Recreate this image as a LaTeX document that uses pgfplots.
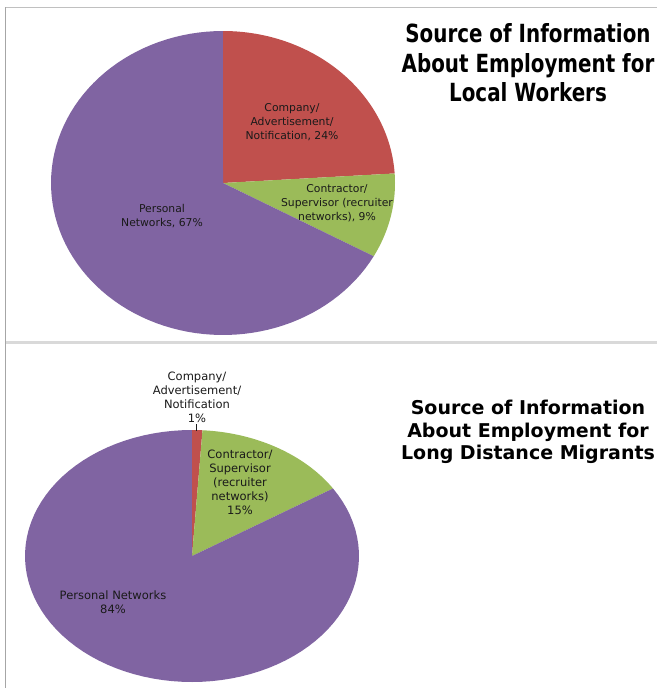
\documentclass[border=0pt]{standalone}
\usepackage{pgfplots}
\pgfplotsset{compat=1.18}
\usepackage{fontspec}
\setmainfont{DejaVu Sans}
\definecolor{cRed}{HTML}{C0504D}
\definecolor{cGreen}{HTML}{9BBB59}
\definecolor{cPurple}{HTML}{8064A2}
\definecolor{cTxt}{HTML}{1A1A1A}
\definecolor{frameA}{HTML}{C0C0C0}
\definecolor{frameB}{HTML}{A6A6A6}
\definecolor{frameC}{HTML}{D9D9D9}
% shares (percent) -- local workers
\def\LocCompany{24}
\def\LocContractor{9}
\def\LocPersonal{67}
% shares (percent) -- long distance migrants
\def\MigCompany{1}
\def\MigContractor{15}
\def\MigPersonal{84}
\newcommand{\pieslice}[7]{%
  \addplot[fill=#1, draw=none, domain=#6:#7, samples=90, variable=\t]
    ({#2+#4*sin(\t)}, {#3-#5*cos(\t)}) -- (axis cs:#2,#3) -- cycle;
}
\begin{document}
\begin{tikzpicture}
\clip (0,0) rectangle (657pt,688pt);
\fill[white] (0,0) rectangle (657pt,688pt);
\begin{axis}[
  scale only axis, width=657pt, height=688pt,
  xmin=0, xmax=657, ymin=0, ymax=688, y dir=reverse,
  hide axis, clip=false]
% frames
\draw[frameA, line width=1pt] (axis cs:5,7) -- (axis cs:657,7);
\draw[frameC, line width=3pt] (axis cs:5,342) -- (axis cs:657,342);
\draw[frameB, line width=1.6pt] (axis cs:5.5,7) -- (axis cs:5.5,688);
% top pie (local workers)
\pgfmathsetmacro{\aA}{3.6*\LocCompany}
\pgfmathsetmacro{\aB}{3.6*(\LocCompany+\LocContractor)}
\pieslice{cRed}{223}{183}{172}{152}{0}{\aA}
\pieslice{cGreen}{223}{183}{172}{152}{\aA}{\aB}
\pieslice{cPurple}{223}{183}{172}{152}{\aB}{360}
% bottom pie (migrants)
\pgfmathsetmacro{\bA}{3.6*\MigCompany}
\pgfmathsetmacro{\bB}{3.6*(\MigCompany+\MigContractor)}
\pieslice{cRed}{192}{556}{167}{126}{0}{\bA}
\pieslice{cGreen}{192}{556}{167}{126}{\bA}{\bB}
\pieslice{cPurple}{192}{556}{167}{126}{\bB}{360}
\draw[cTxt, line width=0.6pt] (axis cs:196,424) -- (axis cs:196,431);
% labels
\begin{scope}[every node/.style={align=center, text=cTxt, font=\fontsize{10.8}{14}\selectfont, inner sep=0pt}]
\node at (axis cs:292,122) {Company/\\Advertisement/\\Notification, 24\%};
\node at (axis cs:337,203) {Contractor/\\Supervisor (recruiter\\networks), 9\%};
\node at (axis cs:162,216) {Personal\\Networks, 67\%};
\end{scope}
\begin{scope}[every node/.style={align=center, text=cTxt, font=\fontsize{11.5}{14}\selectfont, inner sep=0pt}]
\node at (axis cs:197,397) {Company/\\Advertisement/\\Notification\\1\%};
\node at (axis cs:240,482) {Contractor/\\Supervisor\\(recruiter\\networks)\\15\%};
\node at (axis cs:113,602) {Personal Networks\\84\%};
\end{scope}
% titles
\node[align=center, font=\bfseries\fontsize{25}{29.5}\selectfont, xscale=0.795, inner sep=0pt] at (axis cs:528,63) {Source of Information\\About Employment for\\Local Workers};
\node[align=center, font=\bfseries\fontsize{19}{22.5}\selectfont, inner sep=0pt] at (axis cs:528,432) {Source of Information\\About Employment for\\Long Distance Migrants};
\end{axis}
\end{tikzpicture}
\end{document}
